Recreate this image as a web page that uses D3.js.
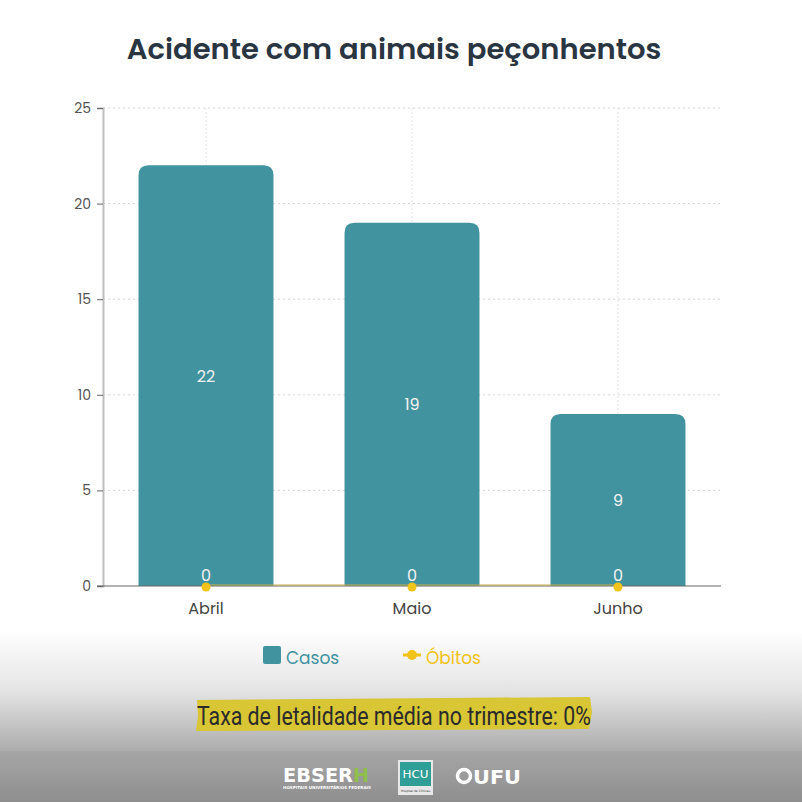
<!DOCTYPE html>
<html>
<head>
<meta charset="utf-8">
<script src="https://cdn.jsdelivr.net/npm/d3@7"></script>
<style>
  html, body { margin: 0; padding: 0; background: #fff; }
  svg { display: block; }
</style>
</head>
<body>
<svg id="chart" width="802" height="802"></svg>
<script>
'use strict';

// data
var months = ['Abril', 'Maio', 'Junho'];
var casos = [22, 19, 9];
var obitos = [0, 0, 0];
var yTicks = [0, 5, 10, 15, 20, 25];
var titulo = 'Acidente com animais peçonhentos';
var nota = 'Taxa de letalidade média no trimestre: 0%';

var svg = d3.select('#chart');
var W = 802, H = 802;
var margin = {top: 108, right: 81, bottom: 216, left: 103};
var width = W - margin.left - margin.right;
var height = H - margin.top - margin.bottom;

var tealColor = '#4293a0';
var yellowColor = '#f2c318';
var font = 'Poppins, Inter, "Noto Sans", sans-serif';

// background gradient at the bottom
var defs = svg.append('defs');
var bg = defs.append('linearGradient')
	.attr('id', 'bg-grad')
	.attr('x1', 0).attr('y1', 0).attr('x2', 0).attr('y2', 1);
bg.selectAll('stop')
	.data([
		{offset: '0%', color: '#ffffff'},
		{offset: '20%', color: '#ffffff'},
		{offset: '60%', color: '#e4e4e4'},
		{offset: '100%', color: '#acacac'}
	])
	.enter().append('stop')
	.attr('offset', function(d) { return d.offset; })
	.attr('stop-color', function(d) { return d.color; });

var band = defs.append('linearGradient')
	.attr('id', 'band-grad')
	.attr('x1', 0).attr('y1', 0).attr('x2', 0).attr('y2', 1);
band.selectAll('stop')
	.data([
		{offset: '0%', color: '#a6a6a6'},
		{offset: '100%', color: '#8e8e8e'}
	])
	.enter().append('stop')
	.attr('offset', function(d) { return d.offset; })
	.attr('stop-color', function(d) { return d.color; });

svg.append('rect').attr('x', 0).attr('y', 0).attr('width', W).attr('height', H).attr('fill', '#fff');
svg.append('rect').attr('x', 0).attr('y', 600).attr('width', W).attr('height', 151).attr('fill', 'url(#bg-grad)');
svg.append('rect').attr('x', 0).attr('y', 751).attr('width', W).attr('height', 51).attr('fill', 'url(#band-grad)');

// title
svg.append('text')
	.attr('x', 394)
	.attr('y', 59)
	.attr('text-anchor', 'middle')
	.attr('font-family', font)
	.attr('font-weight', 600)
	.attr('font-size', 29)
	.attr('fill', '#2a3542')
	.text(titulo);

var g = svg.append('g').attr('transform', 'translate(' + margin.left + ',' + margin.top + ')');

var x = d3.scaleBand()
	.domain(months)
	.range([0, width])
	.paddingInner(0.345)
	.paddingOuter(0.1725);

var y = d3.scaleLinear()
	.domain([0, 25])
	.range([height, 0]);

// grid
g.append('g')
	.selectAll('line.hgrid')
	.data(yTicks.slice(1))
	.enter().append('line')
	.attr('class', 'hgrid')
	.attr('x1', 0).attr('x2', width)
	.attr('y1', function(d) { return y(d); })
	.attr('y2', function(d) { return y(d); })
	.attr('stroke', '#d4d4d4')
	.attr('stroke-dasharray', '2,3');

g.append('g')
	.selectAll('line.vgrid')
	.data(months)
	.enter().append('line')
	.attr('class', 'vgrid')
	.attr('x1', function(d) { return x(d) + x.bandwidth() / 2; })
	.attr('x2', function(d) { return x(d) + x.bandwidth() / 2; })
	.attr('y1', 0).attr('y2', height)
	.attr('stroke', '#e2e2e2')
	.attr('stroke-dasharray', '2,2');

// bars, rounded top corners
var r = 10;
function barPath(d, i) {
	var x0 = x(months[i]), x1 = x0 + x.bandwidth();
	var y0 = y(d), y1 = y(0);
	return 'M' + x0 + ',' + y1 +
		'L' + x0 + ',' + (y0 + r) +
		'Q' + x0 + ',' + y0 + ' ' + (x0 + r) + ',' + y0 +
		'L' + (x1 - r) + ',' + y0 +
		'Q' + x1 + ',' + y0 + ' ' + x1 + ',' + (y0 + r) +
		'L' + x1 + ',' + y1 + 'Z';
}

g.selectAll('path.bar')
	.data(casos)
	.enter().append('path')
	.attr('class', 'bar')
	.attr('d', barPath)
	.attr('fill', tealColor);

// y axis
var yAxis = g.append('g')
	.call(d3.axisLeft(y).tickValues(yTicks).tickSize(6).tickPadding(6));
yAxis.select('.domain').attr('stroke', '#bdbdbd').attr('stroke-width', 2);
yAxis.selectAll('.tick line').attr('stroke', '#666');
yAxis.selectAll('.tick text')
	.attr('font-family', font)
	.attr('font-size', 14)
	.attr('fill', '#555');

// x axis
var xAxis = g.append('g')
	.attr('transform', 'translate(0,' + height + ')')
	.call(d3.axisBottom(x).tickSize(0).tickPadding(17));
xAxis.select('.domain').attr('stroke', '#666').attr('stroke-width', 1.2).attr('d', 'M-6,0H' + width);
xAxis.selectAll('.tick text')
	.attr('font-family', font)
	.attr('font-size', 16)
	.attr('fill', '#444');

// óbitos line and points
var line = d3.line()
	.x(function(d, i) { return x(months[i]) + x.bandwidth() / 2; })
	.y(function(d) { return y(d); });

g.append('path')
	.datum(obitos)
	.attr('d', line)
	.attr('fill', 'none')
	.attr('stroke', '#c9ae4a')
	.attr('stroke-width', 1.2)
	.attr('transform', 'translate(0,-1)');

g.selectAll('circle.ob')
	.data(obitos)
	.enter().append('circle')
	.attr('class', 'ob')
	.attr('cx', function(d, i) { return x(months[i]) + x.bandwidth() / 2; })
	.attr('cy', function(d) { return y(d) + 1; })
	.attr('r', 4.5)
	.attr('fill', yellowColor);

// labels
g.selectAll('text.casos-lbl')
	.data(casos)
	.enter().append('text')
	.attr('class', 'casos-lbl')
	.attr('x', function(d, i) { return x(months[i]) + x.bandwidth() / 2; })
	.attr('y', function(d) { return y(d / 2) + 6; })
	.attr('text-anchor', 'middle')
	.attr('font-family', font)
	.attr('font-size', 16)
	.attr('fill', '#f2f2f2')
	.text(function(d) { return d; });

g.selectAll('text.ob-lbl')
	.data(obitos)
	.enter().append('text')
	.attr('class', 'ob-lbl')
	.attr('x', function(d, i) { return x(months[i]) + x.bandwidth() / 2; })
	.attr('y', function(d) { return y(d) - 5; })
	.attr('text-anchor', 'middle')
	.attr('font-family', font)
	.attr('font-size', 16)
	.attr('fill', '#f2f2f2')
	.text(function(d) { return d; });

// legend
var leg = svg.append('g');
leg.append('rect')
	.attr('x', 263).attr('y', 646).attr('width', 18).attr('height', 18).attr('rx', 2)
	.attr('fill', tealColor);
leg.append('text')
	.attr('x', 286).attr('y', 664)
	.attr('font-family', font)
	.attr('font-size', 17)
	.attr('fill', tealColor)
	.text('Casos');
leg.append('line')
	.attr('x1', 403).attr('x2', 421).attr('y1', 655).attr('y2', 655)
	.attr('stroke', yellowColor).attr('stroke-width', 3);
leg.append('circle')
	.attr('cx', 412).attr('cy', 655).attr('r', 5)
	.attr('fill', yellowColor);
leg.append('text')
	.attr('x', 426).attr('y', 664)
	.attr('font-family', font)
	.attr('font-size', 17)
	.attr('fill', yellowColor)
	.text('Óbitos');

// highlighted note
svg.append('path')
	.attr('d', 'M197,700 L590,697 L592,712 L589,729 L196,731 L198,716 Z')
	.attr('fill', '#d8c634');
svg.append('text')
	.attr('x', 0).attr('y', 0)
	.attr('transform', 'translate(197,725) scale(0.86,1)')
	.attr('font-family', 'Roboto, "Noto Sans", sans-serif')
	.attr('font-size', 25)
	.attr('fill', '#2b2b2b')
	.attr('textLength', 458).attr('lengthAdjust', 'spacingAndGlyphs')
	.text(nota);

// footer logos
var foot = svg.append('g');
foot.append('text')
	.attr('x', 283).attr('y', 782)
	.attr('font-family', '"DejaVu Sans", sans-serif')
	.attr('font-weight', 'bold')
	.attr('font-size', 19)
	.attr('fill', '#fff')
	.attr('textLength', 70).attr('lengthAdjust', 'spacingAndGlyphs')
	.text('EBSER');
foot.append('text')
	.attr('x', 353).attr('y', 782)
	.attr('font-family', '"DejaVu Sans", sans-serif')
	.attr('font-weight', 'bold')
	.attr('font-size', 19)
	.attr('fill', '#8fbf4a')
	.attr('textLength', 16).attr('lengthAdjust', 'spacingAndGlyphs')
	.text('H');
foot.append('text')
	.attr('x', 283).attr('y', 789)
	.attr('font-family', '"DejaVu Sans", sans-serif')
	.attr('font-weight', 'bold')
	.attr('font-size', 4)
	.attr('fill', '#fff')
	.attr('textLength', 88).attr('lengthAdjust', 'spacingAndGlyphs')
	.text('HOSPITAIS UNIVERSITÁRIOS FEDERAIS');

foot.append('rect')
	.attr('x', 398).attr('y', 760).attr('width', 35).attr('height', 35)
	.attr('fill', '#e8e8e8');
foot.append('rect')
	.attr('x', 400).attr('y', 762).attr('width', 31).attr('height', 24)
	.attr('fill', '#2f9e96');
foot.append('text')
	.attr('x', 415.5).attr('y', 778)
	.attr('text-anchor', 'middle')
	.attr('font-family', '"DejaVu Sans", sans-serif')
	.attr('font-size', 10)
	.attr('fill', '#fff')
	.attr('textLength', 26).attr('lengthAdjust', 'spacingAndGlyphs')
	.text('HCU');
foot.append('text')
	.attr('x', 415.5).attr('y', 792)
	.attr('text-anchor', 'middle')
	.attr('font-family', '"DejaVu Sans", sans-serif')
	.attr('font-size', 3)
	.attr('fill', '#333')
	.text('Hospital de Clínicas');

foot.append('circle')
	.attr('cx', 464).attr('cy', 776).attr('r', 6.5)
	.attr('fill', 'none').attr('stroke', '#fff').attr('stroke-width', 3.5);
foot.append('text')
	.attr('x', 473).attr('y', 784)
	.attr('font-family', '"DejaVu Sans", sans-serif')
	.attr('font-weight', 'bold')
	.attr('font-size', 19)
	.attr('fill', '#fff')
	.attr('textLength', 48).attr('lengthAdjust', 'spacingAndGlyphs')
	.text('UFU');
</script>
</body>
</html>
